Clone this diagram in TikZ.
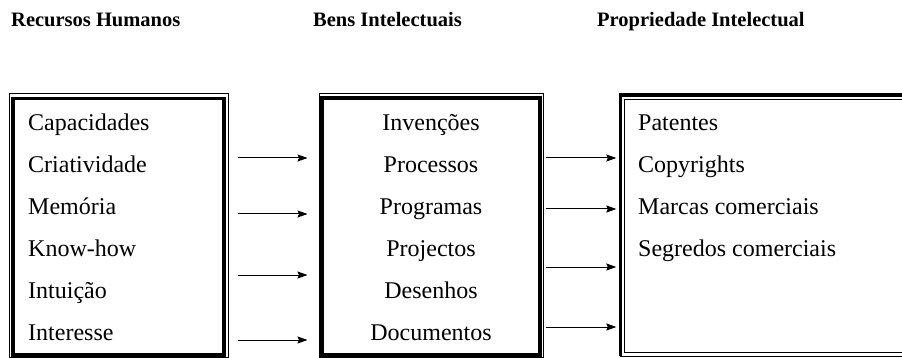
\documentclass[tikz,border=0pt]{standalone}
\usepackage{fontspec}
\setmainfont{Liberation Serif}
\usetikzlibrary{calc,arrows.meta}
\tikzset{
  hdr/.style={anchor=base west, inner sep=0pt, font=\fontsize{20.5}{24}\selectfont\bfseries},
  item/.style={anchor=base west, inner sep=0pt, font=\fontsize{24}{29}\selectfont},
  citem/.style={anchor=base, inner sep=0pt, font=\fontsize{24}{29}\selectfont},
  thinbox/.style={draw, line width=1pt, inner sep=0pt, rectangle},
  thickline/.style={line width=3.5pt},
  thinline/.style={line width=1pt},
  arr/.style={line width=1pt, -{Stealth[length=10pt,width=7pt,inset=1.5pt]}}
}
\begin{document}
\begin{tikzpicture}[x=1pt,y=-1pt]
\useasboundingbox (0,0) rectangle (902,358);
\clip (0,0) rectangle (902,358);
% headers
\node[hdr] (h1) at (11,27) {Recursos Humanos};
\node[hdr] (h2) at (313,27) {Bens Intelectuais};
\node[hdr] (h3) at (597,27) {Propriedade Intelectual};
% box 1
\node[thinbox, minimum width=219pt, minimum height=263pt] (b1) at (118.5,225.5) {};
\draw[thickline] ($(b1.north west)+(4.5,5)$) rectangle ($(b1.south east)+(-4.5,-2.5)$);
% box 2
\node[thinbox, minimum width=224pt, minimum height=263pt] (b2) at (431,225.5) {};
\draw[thickline] ($(b2.north west)+(3.5,4.5)$) rectangle ($(b2.south east)+(-3.5,-2.5)$);
% box 3
\node[inner sep=0pt, minimum width=289.5pt, minimum height=261pt] (b3) at (765.25,225.5) {};
\draw[thickline] (b3.north east) -- (b3.north west) -- (b3.south west);
\draw[thinline] (b3.south west) -- (b3.south east);
\draw[thinline] ($(b3.north west)+(4.5,5)$) rectangle ($(b3.south east)+(0,-3.5)$);
% left items
\node[item] (l1) at (28,131) {Capacidades};
\node[item] (l2) at (28,172.8) {Criatividade};
\node[item] (l3) at (28,214.6) {Memória};
\node[item] (l4) at (28,256.4) {Know-how};
\node[item] (l5) at (28,298.2) {Intuição};
\node[item] (l6) at (28,340) {Interesse};
% middle items
\node[citem] (m1) at (431,131) {Invenções};
\node[citem] (m2) at (431,172.8) {Processos};
\node[citem] (m3) at (431,214.6) {Programas};
\node[citem] (m4) at (431,256.4) {Projectos};
\node[citem] (m5) at (431,298.2) {Desenhos};
\node[citem] (m6) at (431,340) {Documentos};
% right items
\node[item] (r1) at (638,131) {Patentes};
\node[item] (r2) at (638,172.8) {Copyrights};
\node[item] (r3) at (638,214.6) {Marcas comerciais};
\node[item] (r4) at (638,256.4) {Segredos comerciais};
% arrows box1 -> box2
\foreach \yy in {158,214,275,340}{
  \draw[arr] ($(b1.east |- 0,\yy)+(9,0)$) -- ($(b2.west |- 0,\yy)+(-11,0)$);
}
% arrows box2 -> box3
\foreach \yy in {158,209,267,327}{
  \draw[arr] ($(b2.east |- 0,\yy)+(2,0)$) -- ($(b3.west |- 0,\yy)+(-4,0)$);
}
\end{tikzpicture}
\end{document}
